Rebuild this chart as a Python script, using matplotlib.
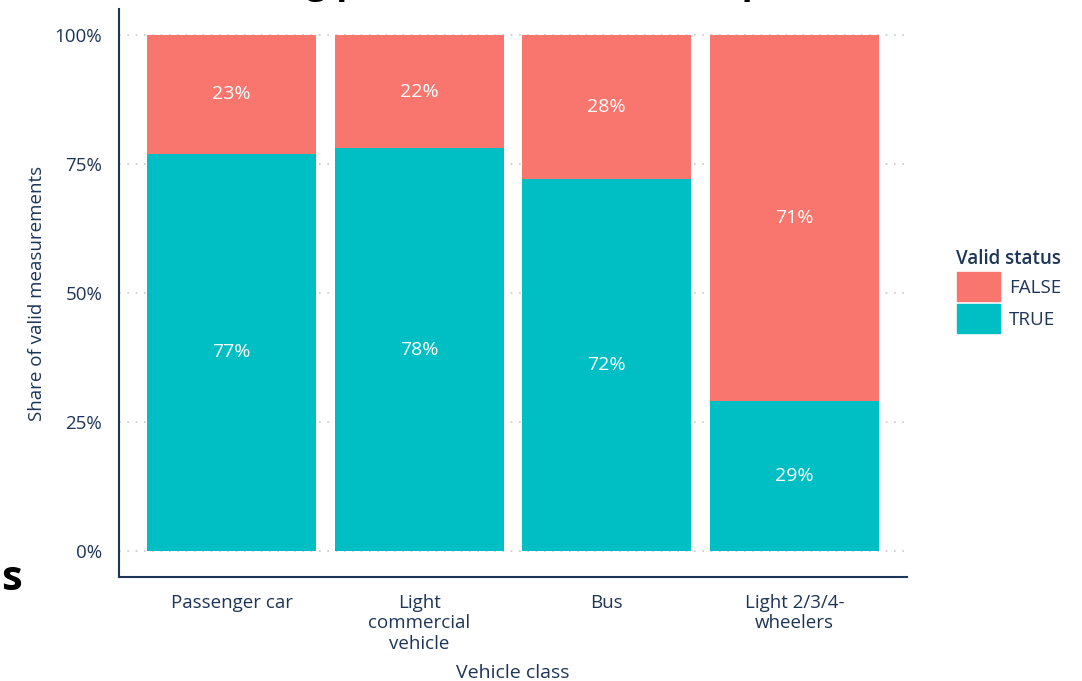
import matplotlib
matplotlib.use("Agg")
import matplotlib.pyplot as plt
from matplotlib.patches import Patch

plt.rcParams["font.family"] = ["Open Sans", "DejaVu Sans"]

NAVY = "#1d3557"
COL_FALSE = "#F8766D"
COL_TRUE = "#00BFC4"

classes = ["Passenger car", "Light\ncommercial\nvehicle", "Bus", "Light 2/3/4-\nwheelers"]
true_pct = [77, 78, 72, 29]
false_pct = [23, 22, 28, 71]
yticks = [0, 0.25, 0.5, 0.75, 1.0]
ytick_labels = ["0%", "25%", "50%", "75%", "100%"]

fig = plt.figure(figsize=(10.82, 6.81), dpi=100)
ax = fig.add_axes([119 / 1082, (681 - 577) / 681, (907 - 119) / 1082, (577 - 9) / 681])

x = range(len(classes))
t = [v / 100 for v in true_pct]
f = [v / 100 for v in false_pct]
ax.bar(x, t, width=0.9, color=COL_TRUE, zorder=2)
ax.bar(x, f, width=0.9, bottom=t, color=COL_FALSE, zorder=2)

for i in x:
    ax.text(i, t[i] / 2, f"{true_pct[i]}%", ha="center", va="center",
            color="white", fontsize=14, zorder=3)
    ax.text(i, t[i] + f[i] / 2, f"{false_pct[i]}%", ha="center", va="center",
            color="white", fontsize=14, zorder=3)

ax.set_xlim(-0.6, 3.6)
ax.set_ylim(-0.05, 1.05)
ax.set_yticks(yticks)
ax.set_yticklabels(ytick_labels)
ax.set_xticks(list(x))
ax.set_xticklabels(classes, linespacing=1.2)
ax.tick_params(axis="both", length=0, colors=NAVY, labelsize=13.5)
ax.tick_params(axis="y", pad=12)
ax.tick_params(axis="x", pad=12)
ax.grid(axis="y", color="#c8c8c8", linestyle=(0, (1, 4)), linewidth=1.2, zorder=0)

for s in ["top", "right"]:
    ax.spines[s].set_visible(False)
for s in ["left", "bottom"]:
    ax.spines[s].set_color(NAVY)
    ax.spines[s].set_linewidth(1.5)

ax.set_xlabel("Vehicle class", color=NAVY, fontsize=14, labelpad=8, fontweight="medium")
ax.set_ylabel("Share of valid measurements", color=NAVY, fontsize=13.5, labelpad=6)

handles = [Patch(color=COL_FALSE, label="FALSE"), Patch(color=COL_TRUE, label="TRUE")]
leg = fig.legend(handles=handles, title="Valid status", loc="upper left",
                 bbox_to_anchor=(949 / 1082, 1 - 242 / 681), frameon=False,
                 fontsize=13.5, title_fontsize=13.5, handlelength=2.3, handleheight=2.0,
                 labelspacing=0.15, handletextpad=0.5, borderaxespad=0)
leg.get_title().set_color(NAVY)
leg.get_title().set_fontweight("semibold")
leg._legend_box.align = "left"
for txt in leg.get_texts():
    txt.set_color(NAVY)

# clipped heading and sidebar text at the edges
fig.text(41 / 1082, 1 + 7 / 681, "Remote sensing points that were valid per vehicle class",
         ha="left", va="baseline", fontsize=26, fontweight="bold", color="black")
fig.text(1 / 1082, 1 - 590 / 681, "s", ha="left", va="baseline",
         fontsize=30, fontweight="bold", color="black")

fig.savefig("out.png", dpi=100)
